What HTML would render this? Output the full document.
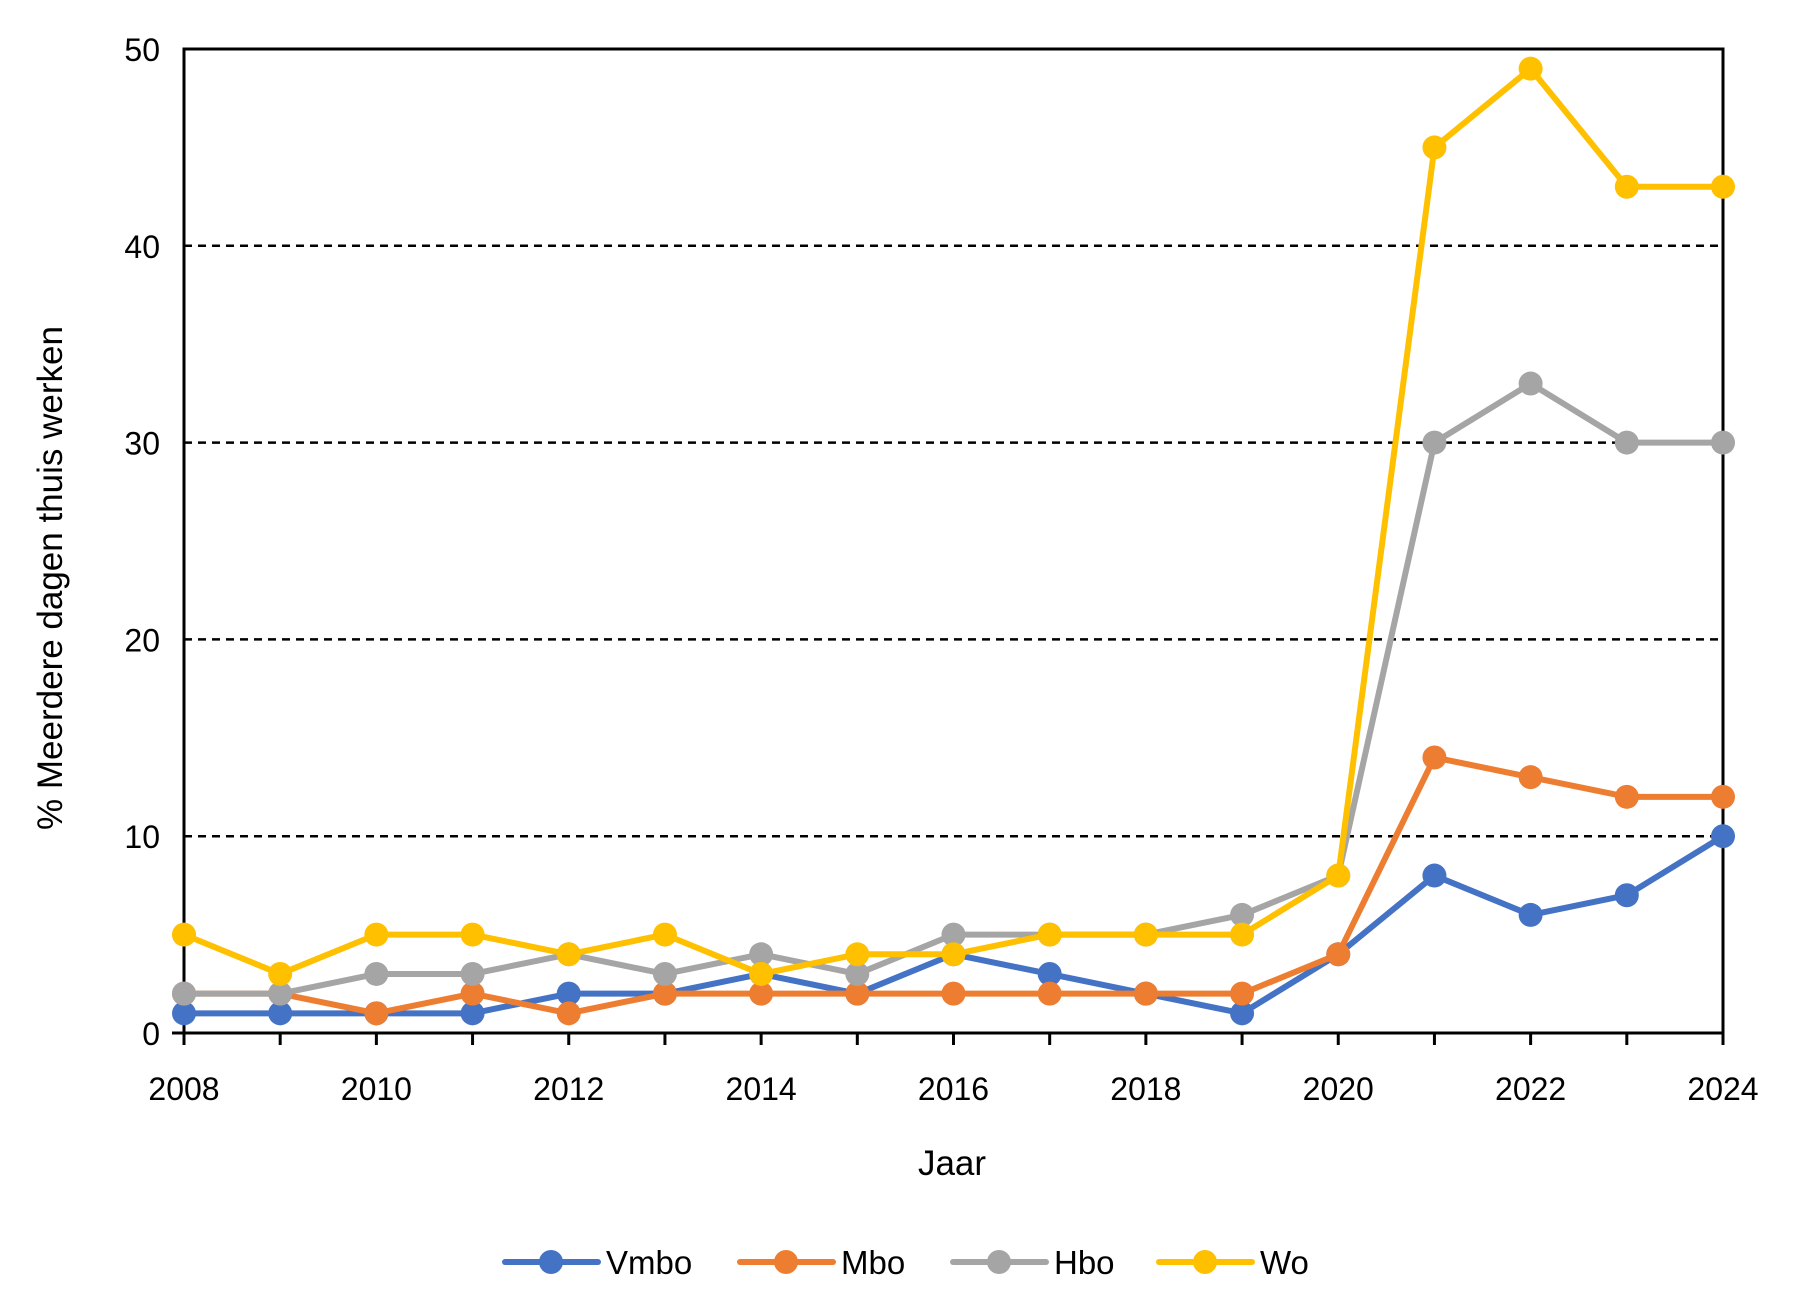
<!DOCTYPE html>
<html><head><meta charset="utf-8"><style>
body{margin:0;background:#fff}
svg text{font-family:"Liberation Sans",sans-serif;fill:#000}
</style></head><body>
<svg id="c" width="1793" height="1311" xmlns="http://www.w3.org/2000/svg"></svg>
<script>
const years=[2008,2009,2010,2011,2012,2013,2014,2015,2016,2017,2018,2019,2020,2021,2022,2023,2024];
const vmbo=[1,1,1,1,2,2,3,2,4,3,2,1,4,8,6,7,10];
const mbo=[2,2,1,2,1,2,2,2,2,2,2,2,4,14,13,12,12];
const hbo=[2,2,3,3,4,3,4,3,5,5,5,6,8,30,33,30,30];
const wo=[5,3,5,5,4,5,3,4,4,5,5,5,8,45,49,43,43];
const yTicks=[0,10,20,30,40,50];
const xLabels=[2008,2010,2012,2014,2016,2018,2020,2022,2024];
const seriesNames=["Vmbo","Mbo","Hbo","Wo"];
const seriesColors=["#4472C4","#ED7D31","#A5A5A5","#FFC000"];
const seriesData=[vmbo,mbo,hbo,wo];
const L=184,R=1723,T=49,B=1033;
const x=v=>L+(v-2008)*(R-L)/16, y=v=>B-v*(B-T)/50;
const svg=document.getElementById('c');const NS="http://www.w3.org/2000/svg";
function el(t,a,p){const e=document.createElementNS(NS,t);for(const k in a)e.setAttribute(k,a[k]);(p||svg).appendChild(e);return e;}
yTicks.forEach(t=>{
 if(t>0&&t<50){const g=el('line',{x1:L,x2:R,y1:y(t),y2:y(t),stroke:'#000','stroke-width':2.5,'stroke-dasharray':'8,6'});
 }
 const tx=el('text',{x:160,y:y(t)+12,'text-anchor':'end','font-size':32});tx.textContent=t;
 
});
const frame=el('rect',{x:L,y:T,width:R-L,height:B-T,fill:'none',stroke:'#000','stroke-width':3});

years.forEach(v=>{const tk=el('line',{x1:x(v),x2:x(v),y1:B,y2:B+12,stroke:'#000','stroke-width':3});
 });
const yt0=el('line',{x1:L-12,x2:L,y1:B,y2:B,stroke:'#000','stroke-width':3});
xLabels.forEach(v=>{const tx=el('text',{x:x(v),y:1100,'text-anchor':'middle','font-size':32});tx.textContent=v;
 });
seriesData.forEach((d,i)=>{
 const g=el('g',{});
 const p=el('polyline',{points:d.map((v,j)=>x(years[j])+','+y(v)).join(' '),fill:'none',stroke:seriesColors[i],'stroke-width':6,'stroke-linejoin':'round'},g);
 
 d.forEach((v,j)=>{const c=el('circle',{cx:x(years[j]),cy:y(v),r:12,fill:seriesColors[i]},g);
  });
});
const xt=el('text',{x:952,y:1175,'text-anchor':'middle','font-size':35});xt.textContent='Jaar';

const ytl=el('text',{x:0,y:0,'text-anchor':'middle','font-size':35,transform:'translate(62,578) rotate(-90)'});ytl.textContent='% Meerdere dagen thuis werken';

const lx=[505,740,953,1159];
seriesNames.forEach((n,i)=>{
 const g=el('g',{});
 el('line',{x1:lx[i],x2:lx[i]+93,y1:1262,y2:1262,stroke:seriesColors[i],'stroke-width':6,'stroke-linecap':'round'},g);
 el('circle',{cx:lx[i]+46,cy:1262,r:12,fill:seriesColors[i]},g);
 const t=el('text',{x:lx[i]+101,y:1274,'font-size':33},g);t.textContent=n;
});
</script>
</body></html>
